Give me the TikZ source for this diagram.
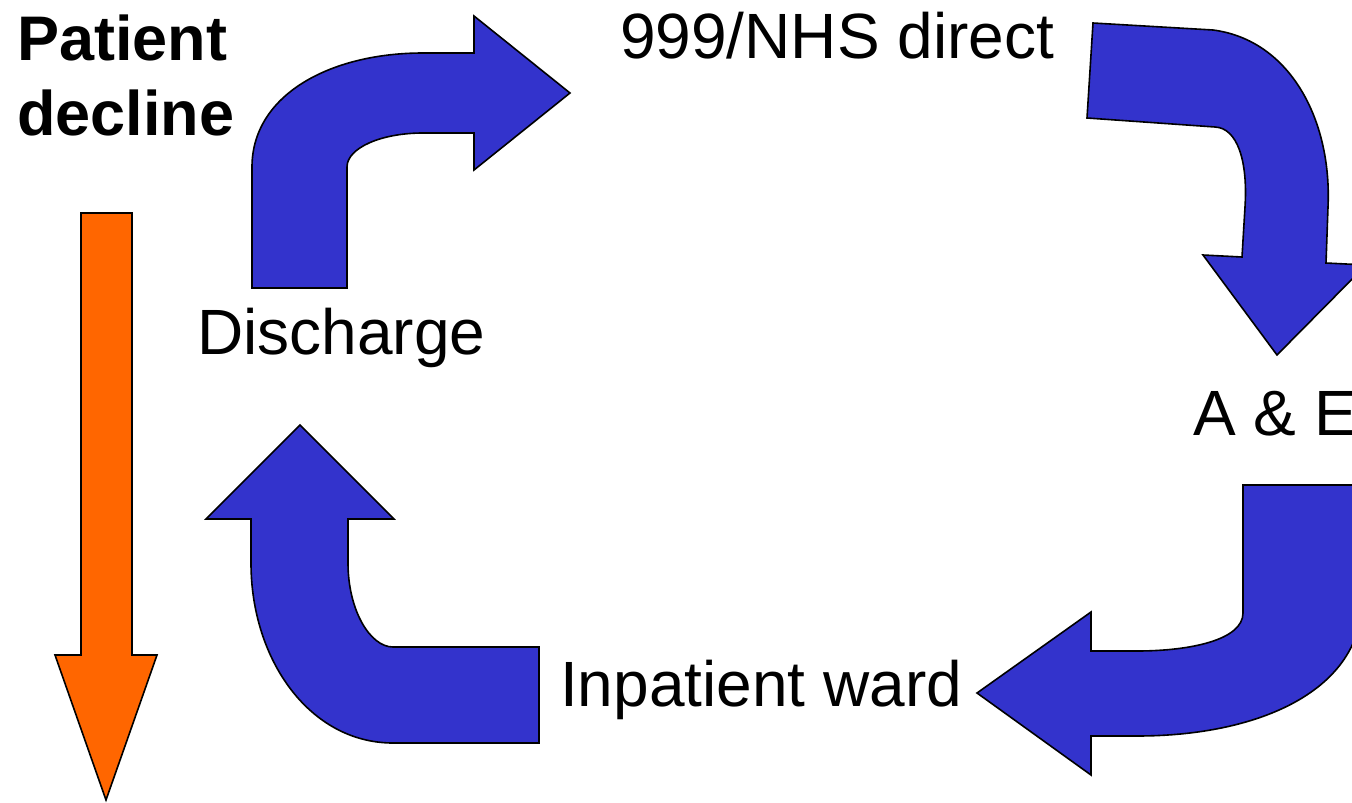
\documentclass[tikz,border=0pt]{standalone}
\usepackage{fontspec}
\setmainfont{Liberation Sans}
\definecolor{arrowblue}{HTML}{3333CC}
\definecolor{declineorange}{HTML}{FF6600}
\begin{document}
\begin{tikzpicture}[x=1pt,y=-1pt,
  bigarrow/.style={draw=black,line width=1.6pt,line join=miter,fill=arrowblue},
  declinearrow/.style={draw=black,line width=1.6pt,fill=declineorange},
  lbl/.style={anchor=base west,inner sep=0pt,font=\fontsize{64}{76}\selectfont},
  boldlbl/.style={anchor=base west,inner sep=0pt,font=\fontsize{63}{75}\selectfont\bfseries}]
\useasboundingbox (0,0) rectangle (1352,803);
\clip (0,0) rectangle (1352,803);
% Discharge -> 999
\draw[bigarrow] (252,288) -- (252,167) .. controls (252,95) and (330,53) .. (423,53)
  -- (474,53) -- (474,16) -- (570,93) -- (474,170) -- (474,133) -- (423,133)
  .. controls (381,133) and (347,148) .. (347,167) -- (347,288) -- cycle;
% 999 -> A&E
\draw[bigarrow] (1093,23) -- (1213,30) .. controls (1290,40) and (1332,120) .. (1328,207)
  -- (1326,263) -- (1366,265) -- (1277,355) -- (1203,255) -- (1242,257) -- (1245,207)
  .. controls (1248,160) and (1237,128) .. (1215,127) -- (1087,118) -- cycle;
% A&E -> Inpatient
\draw[bigarrow] (1243,485) -- (1243,613) .. controls (1243,640) and (1190,651) .. (1137,651)
  -- (1091,651) -- (1091,612) -- (977,693) -- (1091,775) -- (1091,736) -- (1137,736)
  .. controls (1260,736) and (1362,690) .. (1362,600) -- (1362,485) -- cycle;
% Inpatient -> Discharge
\draw[bigarrow] (300,425) -- (394,519) -- (348,519) -- (348,563)
  .. controls (348,610) and (370,647) .. (393,647) -- (539,647) -- (539,743) -- (393,743)
  .. controls (310,743) and (251,660) .. (251,563) -- (251,519) -- (206,519) -- cycle;
% Patient decline arrow
\draw[declinearrow] (81,213) -- (132,213) -- (132,655) -- (157,655) -- (106,800)
  -- (55,655) -- (81,655) -- cycle;
% labels
\node[boldlbl] (patient) at (17,60) {Patient};
\node[boldlbl] (decline) at (17,135) {decline};
\node[lbl] (nhs) at (620,58) {999/NHS direct};
\node[lbl] (discharge) at (197,354) {Discharge};
\node[lbl] (ae) at (1193,435) {A \& E};
\node[lbl] (ward) at (560,706) {Inpatient ward};
\end{tikzpicture}
\end{document}
